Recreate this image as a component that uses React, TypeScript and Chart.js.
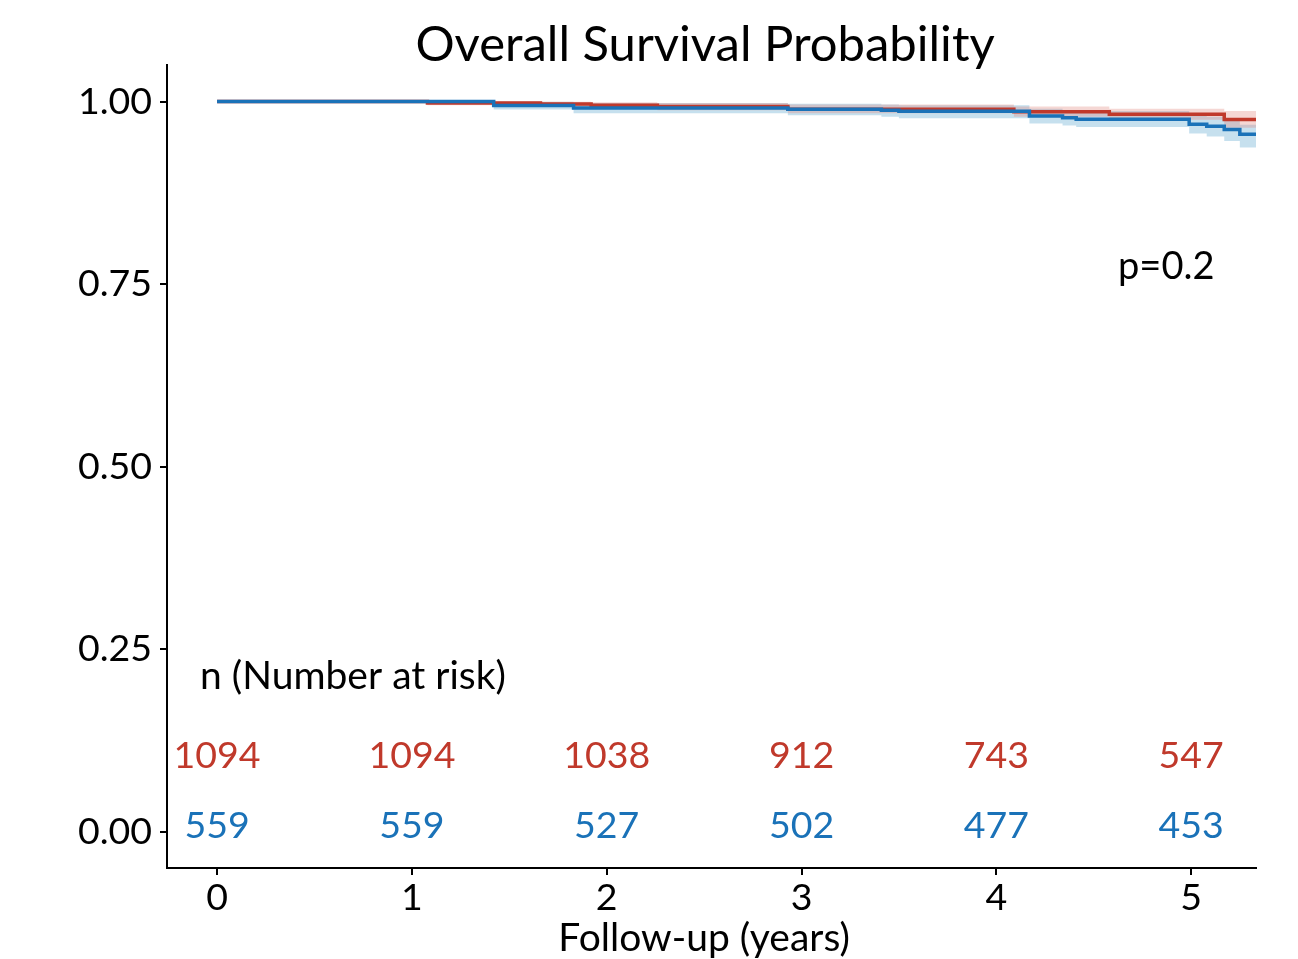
import React, { useEffect, useRef } from "react";
import { Chart, registerables } from "chart.js";

Chart.register(...registerables);

const chartTitle = "Overall Survival Probability";
const xAxisTitle = "Follow-up (years)";
const pValueText = "p=0.2";
const riskHeader = "n (Number at risk)";

const xTickValues = [0, 1, 2, 3, 4, 5];
const yTickValues = [0, 0.25, 0.5, 0.75, 1];

// Group shown in red
const redTimes = [0, 1.08, 1.66, 1.92, 2.26, 2.93, 4.09, 4.58, 5.17, 5.34];
const redSurv = [1.0, 0.998, 0.9965, 0.995, 0.993, 0.9895, 0.9858, 0.9826, 0.9754, 0.9754];
const redUpper = [1.0, 1.0, 0.9995, 0.999, 0.998, 0.996, 0.993, 0.99, 0.987, 0.987];
const redLower = [1.0, 0.995, 0.993, 0.991, 0.988, 0.984, 0.979, 0.975, 0.964, 0.964];

// Group shown in blue
const blueTimes = [0, 1.42, 1.83, 2.93, 3.41, 3.5, 4.17, 4.34, 4.41, 4.99, 5.08, 5.17, 5.25, 5.34];
const blueSurv = [1.0, 0.9945, 0.9912, 0.9895, 0.988, 0.9867, 0.98, 0.9776, 0.9758, 0.969, 0.966, 0.9617, 0.955, 0.955];
const blueUpper = [1.0, 0.9995, 0.998, 0.997, 0.996, 0.995, 0.99, 0.988, 0.987, 0.981, 0.979, 0.976, 0.968, 0.968];
const blueLower = [1.0, 0.989, 0.984, 0.981, 0.979, 0.977, 0.97, 0.967, 0.965, 0.956, 0.952, 0.946, 0.937, 0.937];

// Number at risk table
const riskTimes = [0, 1, 2, 3, 4, 5];
const riskRed = [1094, 1094, 1038, 912, 743, 547];
const riskBlue = [559, 559, 527, 502, 477, 453];

const RED = "#C0392B";
const BLUE = "#1A72B8";
const FONT = "Lato";

const toPoints = (xs: number[], ys: number[]) => xs.map((x, i) => ({ x, y: ys[i] }));

export default function App() {
  const canvasRef = useRef<HTMLCanvasElement | null>(null);

  useEffect(() => {
    if (!canvasRef.current) return;

    const annotations = {
      id: "kmAnnotations",
      afterDraw(chart: any) {
        const { ctx, scales } = chart;
        const xs = scales.x;
        const ys = scales.y;
        ctx.save();
        ctx.fillStyle = "#000";
        ctx.textBaseline = "middle";
        // Title
        ctx.font = `49px ${FONT}`;
        ctx.textAlign = "center";
        ctx.fillText(chartTitle, xs.getPixelForValue(2.505), 45);
        // x-axis title
        ctx.font = `39px ${FONT}`;
        ctx.fillText(xAxisTitle, xs.getPixelForValue(2.5), 938);
        // p-value
        ctx.font = `38px ${FONT}`;
        ctx.textAlign = "left";
        ctx.fillText(pValueText, xs.getPixelForValue(4.625), ys.getPixelForValue(0.774));
        // risk header
        ctx.font = `39px ${FONT}`;
        ctx.fillText(riskHeader, xs.getPixelForValue(-0.087), ys.getPixelForValue(0.213));
        // risk numbers
        ctx.font = `37.5px ${FONT}`;
        ctx.textAlign = "center";
        riskTimes.forEach((t, i) => {
          const px = xs.getPixelForValue(t);
          ctx.fillStyle = RED;
          ctx.fillText(String(riskRed[i]), px, ys.getPixelForValue(0.104));
          ctx.fillStyle = BLUE;
          ctx.fillText(String(riskBlue[i]), px, ys.getPixelForValue(0.008));
        });
        ctx.restore();
      },
    };

    const chart = new Chart(canvasRef.current, {
      type: "line",
      data: {
        datasets: [
          {
            label: "blue upper",
            data: toPoints(blueTimes, blueUpper),
            stepped: "before",
            borderWidth: 0,
            pointRadius: 0,
            backgroundColor: "rgba(120,180,215,0.42)",
            fill: "+1",
            order: 6,
          },
          {
            label: "blue lower",
            data: toPoints(blueTimes, blueLower),
            stepped: "before",
            borderWidth: 0,
            pointRadius: 0,
            fill: false,
            order: 6,
          },
          {
            label: "red upper",
            data: toPoints(redTimes, redUpper),
            stepped: "before",
            borderWidth: 0,
            pointRadius: 0,
            backgroundColor: "rgba(225,130,120,0.32)",
            fill: "+1",
            order: 5,
          },
          {
            label: "red lower",
            data: toPoints(redTimes, redLower),
            stepped: "before",
            borderWidth: 0,
            pointRadius: 0,
            fill: false,
            order: 5,
          },
          {
            label: "red",
            data: toPoints(redTimes, redSurv),
            stepped: "before",
            borderColor: RED,
            borderWidth: 3.5,
            pointRadius: 0,
            fill: false,
            order: 2,
          },
          {
            label: "blue",
            data: toPoints(blueTimes, blueSurv),
            stepped: "before",
            borderColor: BLUE,
            borderWidth: 3.5,
            pointRadius: 0,
            fill: false,
            order: 1,
          },
        ],
      },
      options: {
        responsive: false,
        animation: false,
        layout: { padding: { top: 65, right: 42, bottom: 0, left: 0 } },
        plugins: {
          legend: { display: false },
          tooltip: { enabled: false },
          title: { display: false },
        },
        scales: {
          x: {
            type: "linear",
            min: -0.257,
            max: 5.333,
            afterFit: (scale: any) => {
              scale.height = 91;
            },
            afterBuildTicks: (scale: any) => {
              scale.ticks = xTickValues.map((v) => ({ value: v }));
            },
            border: { display: true, color: "#000", width: 2 },
            grid: { drawOnChartArea: false, drawTicks: true, tickLength: 7, color: "#000", lineWidth: 2 },
            ticks: {
              color: "#000",
              font: { family: FONT, size: 37.5 },
              padding: 0,
              maxRotation: 0,
              autoSkip: false,
              callback: (v: any) => String(v),
            },
          },
          y: {
            type: "linear",
            min: -0.05,
            max: 1.05,
            afterFit: (scale: any) => {
              scale.width = 167;
            },
            afterBuildTicks: (scale: any) => {
              scale.ticks = yTickValues.map((v) => ({ value: v }));
            },
            border: { display: true, color: "#000", width: 2 },
            grid: { drawOnChartArea: false, drawTicks: true, tickLength: 7, color: "#000", lineWidth: 2 },
            ticks: {
              color: "#000",
              font: { family: FONT, size: 37.5 },
              padding: 8,
              autoSkip: false,
              callback: (v: any) => Number(v).toFixed(2),
            },
          },
        },
      },
      plugins: [annotations],
    });

    return () => chart.destroy();
  }, []);

  return (
    <div style={{ position: "absolute", left: 0, top: 0, width: 1298, height: 959, background: "#fff" }}>
      <canvas ref={canvasRef} width={1298} height={959} style={{ display: "block" }} />
    </div>
  );
}
